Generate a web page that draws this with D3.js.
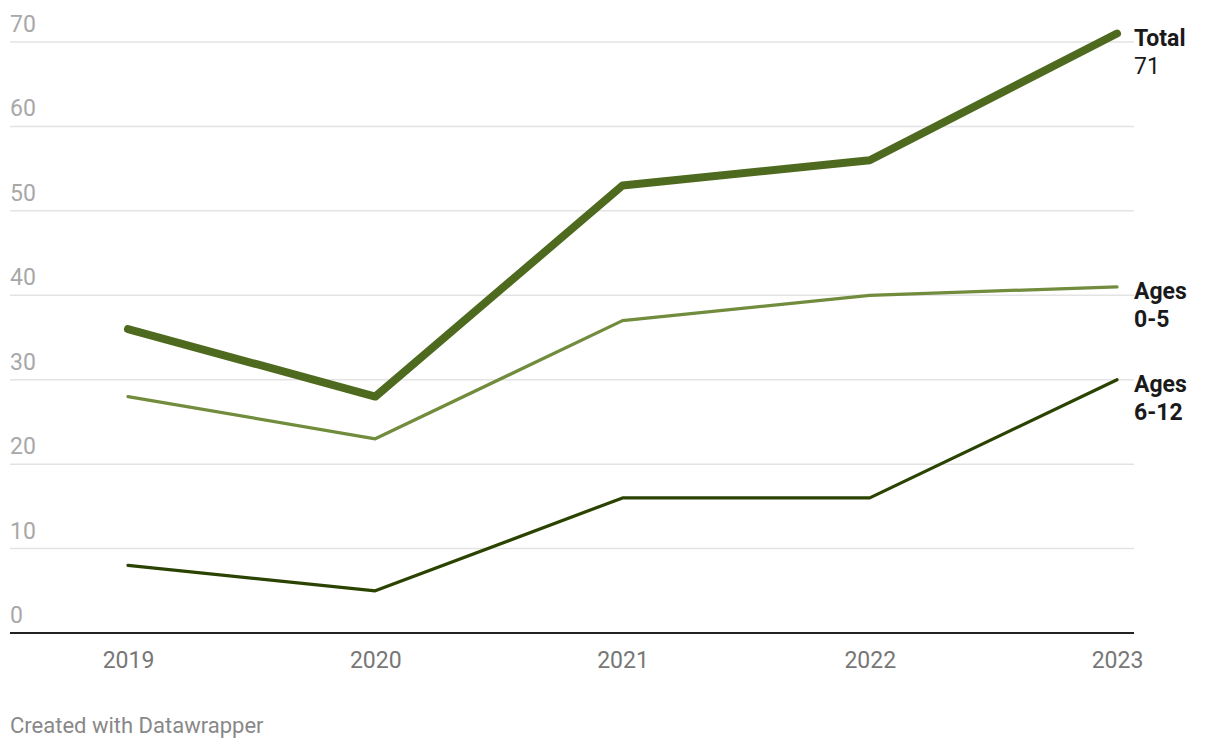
<!DOCTYPE html>
<html><head><meta charset="utf-8">
<script src="https://cdn.jsdelivr.net/npm/d3@7"></script>
<style>
body{margin:0;background:#fff;}
svg text{font-family:Roboto,"Noto Sans",sans-serif;}
</style></head>
<body><svg id="c" width="1220" height="750"></svg>
<script>
const years = [2019, 2020, 2021, 2022, 2023];
const total = [36, 28, 53, 56, 71];
const ages0to5 = [28, 23, 37, 40, 41];
const ages6to12 = [8, 5, 16, 16, 30];
const yTicks = [0, 10, 20, 30, 40, 50, 60, 70];

const series = [
  {name:["Ages", "0-5"], values:ages0to5, color:"#708c3c", width:3.2, bold:true},
  {name:["Ages", "6-12"], values:ages6to12, color:"#2b4300", width:3.2, bold:true},
  {name:["Total", "71"], values:total, color:"#4e6a1f", width:8, bold:true, valueLabel:true}
];

const svg = d3.select("#c");
const x = d3.scalePoint().domain(years).range([128, 1117]);
const y = d3.scaleLinear().domain([0, 70]).range([633, 42]);
const gridX0 = 10, gridX1 = 1134;

// gridlines
svg.append("g").selectAll("line").data(yTicks.filter(d=>d>0)).join("line")
  .attr("x1", gridX0).attr("x2", gridX1)
  .attr("y1", d=>y(d)).attr("y2", d=>y(d))
  .attr("stroke", "#e3e3e3").attr("stroke-width", 1.5);

// y tick labels
svg.append("g").selectAll("text").data(yTicks).join("text")
  .attr("x", gridX0).attr("y", d=>y(d)-10)
  .attr("fill", "#a8a8a8").attr("font-size", 23)
  .text(d=>d);

// baseline
svg.append("line").attr("x1", gridX0).attr("x2", gridX1)
  .attr("y1", y(0)).attr("y2", y(0)).attr("stroke", "#222").attr("stroke-width", 2);

// x axis labels
const xAxis = d3.axisBottom(x).tickSize(0).tickPadding(0);
const gx = svg.append("g").attr("transform", `translate(0,${y(0)})`).call(xAxis);
gx.select(".domain").remove();
gx.selectAll("text").attr("font-size", 23).attr("fill", "#777")
  .attr("dy", null).attr("y", 35).style("font-family", "Roboto");

// lines
const line = d3.line().x((d,i)=>x(years[i])).y(d=>y(d));
svg.append("g").selectAll("path").data(series).join("path")
  .attr("d", d=>line(d.values)).attr("fill", "none")
  .attr("stroke", d=>d.color).attr("stroke-width", d=>d.width)
  .attr("stroke-linejoin", "round").attr("stroke-linecap", "round");

// labels
series.forEach(s=>{
  const last = s.values[s.values.length-1];
  const t = svg.append("text").attr("x", gridX1).attr("y", y(last)+12)
    .attr("font-size", 23).attr("fill", "#1a1a1a");
  t.append("tspan").attr("font-weight", 700).text(s.name[0]);
  t.append("tspan").attr("x", gridX1).attr("dy", 28)
    .attr("font-weight", s.valueLabel ? 400 : 700).text(s.name[1]);
});

// footer
svg.append("text").attr("x", 10).attr("y", 733).attr("font-size", 22)
  .attr("fill", "#888").text("Created with Datawrapper");
</script></body></html>
